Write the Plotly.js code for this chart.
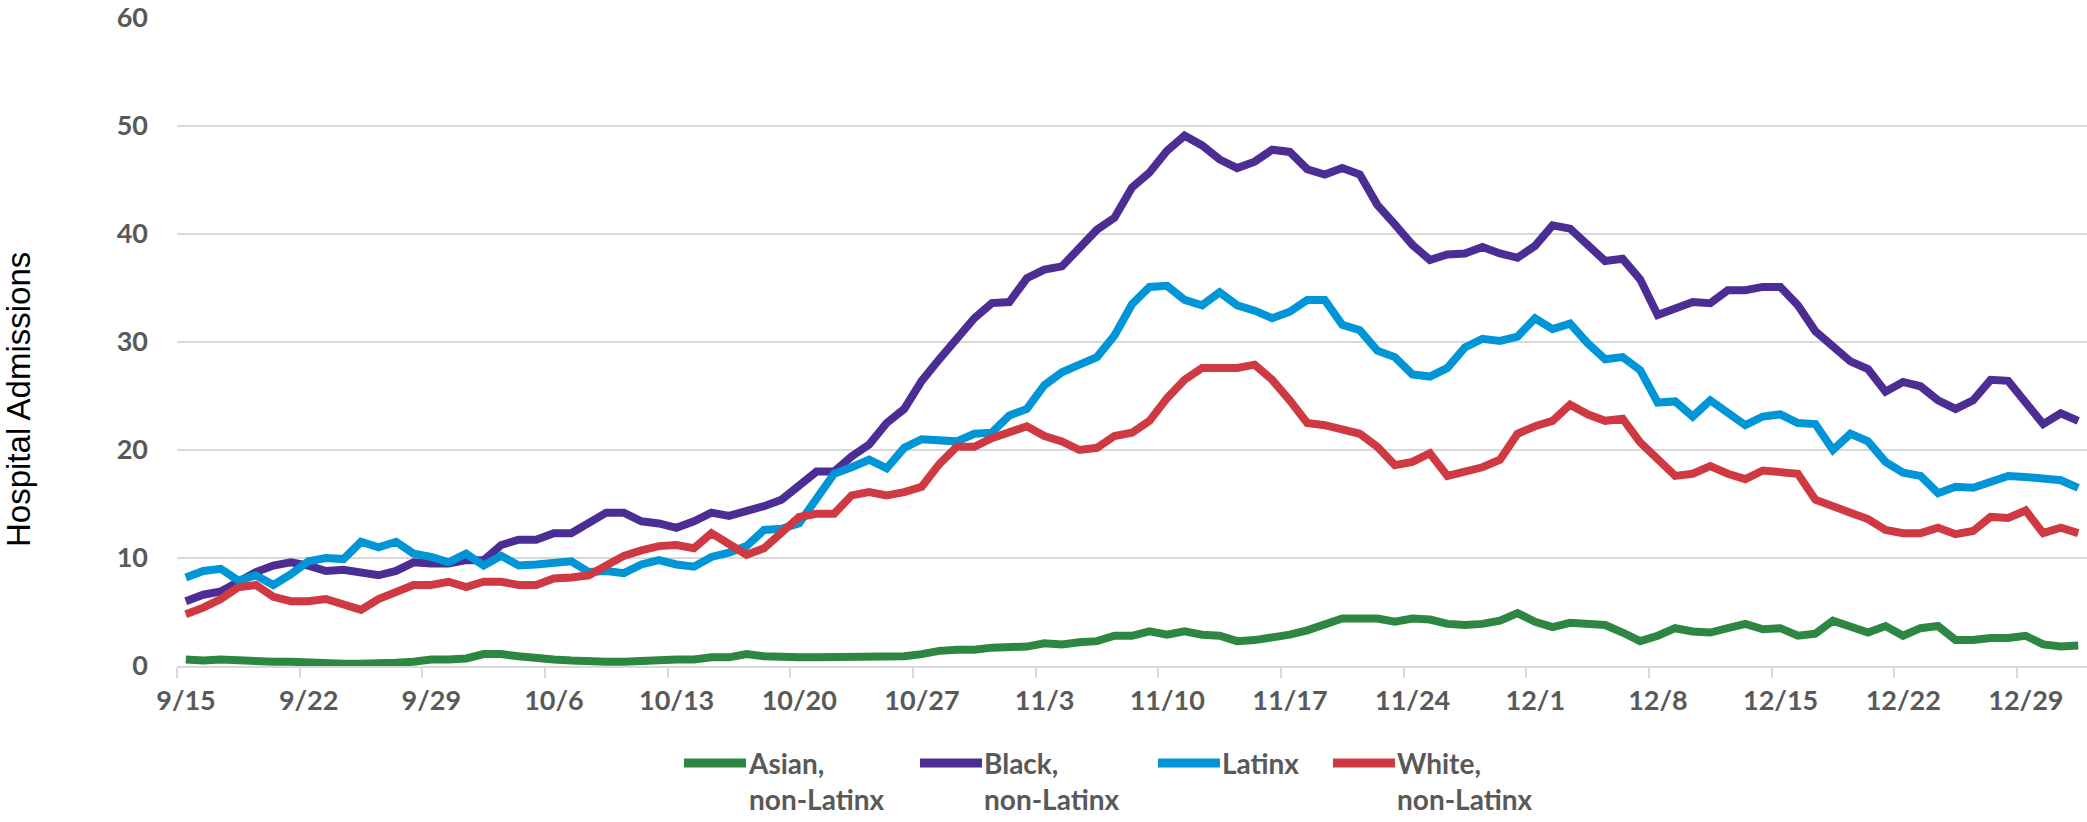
<!DOCTYPE html>
<html>
<head>
<meta charset="utf-8">
<script src="https://cdn.plot.ly/plotly-3.0.1.min.js"></script>
<style>
  html, body { margin: 0; padding: 0; background: #fff; }
  #chart { width: 2087px; height: 822px; }
</style>
</head>
<body>
<div id="chart"></div>
<script>
// daily hospital admissions, 9/15 to 1/1
const firstDay = [2020, 8, 15];

const asian = [
  0.6, 0.5, 0.6, 0.5, 0.4, 0.4, 0.4, 0.3, 0.3, 0.2, 0.2, 0.2, 0.3, 0.4, 0.6, 0.6, 0.7, 1.1, 1.1, 0.9, 0.7, 0.6,
  0.5, 0.4, 0.4, 0.4, 0.5, 0.6, 0.6, 0.6, 0.8, 0.8, 1.1, 0.9, 0.8, 0.8, 0.8, 0.8, 0.8, 0.8, 0.8, 0.9, 1.1, 1.4, 1.5,
  1.5, 1.7, 1.7, 1.8, 2.1, 2.0, 2.2, 2.3, 2.8, 2.8, 3.2, 2.9, 3.2, 2.9, 2.8, 2.3, 2.4, 2.6, 2.9, 3.3, 3.9, 4.4,
  4.4, 4.4, 4.1, 4.4, 4.3, 3.9, 3.8, 3.9, 4.2, 4.9, 4.1, 3.6, 4.0, 3.9, 3.8, 3.1, 2.3, 2.8, 3.5, 3.2, 3.1, 3.5,
  3.9, 3.4, 3.5, 2.8, 3.0, 4.2, 3.6, 3.1, 3.7, 2.8, 3.5, 3.7, 2.4, 2.4, 2.6, 2.6, 2.8, 2.0, 1.8, 1.9
];
const black = [
  6.0, 6.6, 6.9, 7.9, 8.7, 9.3, 9.6, 9.3, 8.8, 8.9, 8.7, 8.4, 8.8, 9.6, 9.5, 9.5, 9.8, 9.8, 11.2, 11.7, 11.7, 12.3,
  12.3, 13.2, 14.2, 14.2, 13.4, 13.2, 12.8, 13.4, 14.2, 13.9, 14.3, 14.8, 15.4, 16.6, 18.0, 18.0, 19.4, 20.5, 22.5, 23.8, 26.4, 28.4, 30.4,
  32.2, 33.6, 33.7, 35.9, 36.7, 37.0, 38.6, 40.4, 41.5, 44.3, 45.7, 47.7, 49.1, 48.2, 46.9, 46.1, 46.7, 47.8, 47.6, 46.0, 45.5, 46.1,
  45.5, 42.7, 40.9, 39.0, 37.6, 38.1, 38.2, 38.8, 38.2, 37.8, 38.9, 40.8, 40.5, 39.1, 37.5, 37.7, 35.8, 32.5, 33.1, 33.7, 33.6, 34.8,
  34.8, 35.1, 35.1, 33.4, 31.0, 29.7, 28.2, 27.5, 25.4, 26.3, 25.9, 24.6, 23.8, 24.6, 26.5, 26.4, 24.5, 22.4, 23.4, 22.7
];
const latinx = [
  8.2, 8.8, 9.0, 7.9, 8.4, 7.5, 8.5, 9.7, 10.0, 9.9, 11.5, 11.0, 11.5, 10.4, 10.1, 9.6, 10.4, 9.3, 10.2, 9.3, 9.4, 9.6,
  9.7, 8.7, 8.8, 8.6, 9.4, 9.8, 9.4, 9.2, 10.1, 10.5, 11.1, 12.6, 12.7, 13.2, 15.5, 17.8, 18.4, 19.1, 18.3, 20.2, 21.0, 20.9, 20.8,
  21.5, 21.6, 23.2, 23.8, 26.0, 27.2, 27.9, 28.6, 30.6, 33.5, 35.1, 35.2, 33.9, 33.4, 34.6, 33.4, 32.9, 32.2, 32.8, 33.9, 33.9, 31.6,
  31.1, 29.2, 28.6, 27.0, 26.8, 27.6, 29.5, 30.3, 30.1, 30.5, 32.2, 31.2, 31.7, 29.9, 28.4, 28.6, 27.4, 24.4, 24.5, 23.1, 24.6, 23.5,
  22.3, 23.1, 23.3, 22.5, 22.4, 20.0, 21.5, 20.8, 18.9, 17.9, 17.6, 16.0, 16.6, 16.5, 17.0, 17.6, 17.5, 17.4, 17.2, 16.5
];
const white = [
  4.8, 5.4, 6.2, 7.3, 7.5, 6.4, 6.0, 6.0, 6.2, 5.7, 5.2, 6.2, 6.8, 7.5, 7.5, 7.8, 7.3, 7.8, 7.8, 7.5, 7.5, 8.1,
  8.2, 8.4, 9.3, 10.2, 10.7, 11.1, 11.2, 10.9, 12.3, 11.2, 10.3, 10.9, 12.4, 13.8, 14.1, 14.1, 15.8, 16.1, 15.8, 16.1, 16.6, 18.7, 20.3,
  20.3, 21.1, 21.6, 22.2, 21.3, 20.8, 20.0, 20.2, 21.3, 21.6, 22.7, 24.8, 26.5, 27.6, 27.6, 27.6, 27.9, 26.5, 24.6, 22.5, 22.3, 21.9,
  21.5, 20.3, 18.6, 18.9, 19.7, 17.6, 18.0, 18.4, 19.1, 21.5, 22.2, 22.7, 24.2, 23.3, 22.7, 22.9, 20.7, 19.1, 17.6, 17.8, 18.5, 17.8,
  17.3, 18.1, 18.0, 17.8, 15.4, 14.7, 14.2, 13.6, 12.6, 12.3, 12.3, 12.8, 12.2, 12.5, 13.8, 13.7, 14.4, 12.3, 12.8, 12.3
];

const seriesNames = ["Asian, non-Latinx", "Black, non-Latinx", "Latinx", "White, non-Latinx"];
const seriesColors = ["#2d8641", "#4b2d94", "#0095d6", "#cf3a42"];

const tickDates = ["2020-09-15", "2020-09-22", "2020-09-29", "2020-10-06", "2020-10-13", "2020-10-20", "2020-10-27", "2020-11-03",
  "2020-11-10", "2020-11-17", "2020-11-24", "2020-12-01", "2020-12-08", "2020-12-15", "2020-12-22", "2020-12-29"];
const tickText = ["9/15", "9/22", "9/29", "10/6", "10/13", "10/20", "10/27", "11/3",
  "11/10", "11/17", "11/24", "12/1", "12/8", "12/15", "12/22", "12/29"];

// one category per day
let days = [];
for (let i = 0; i < asian.length; i++) {
  let d = new Date(Date.UTC(firstDay[0], firstDay[1], firstDay[2] + i));
  days.push(d.toISOString().slice(0, 10));
}

// tick marks sit between days (like Excel), labels in the middle of the day
function halfDayBefore(s) {
  let t = new Date(s + "T00:00:00Z").getTime() - 12 * 3600 * 1000;
  return new Date(t).toISOString().replace("T", " ").slice(0, 16);
}
let tickVals = tickDates.map(halfDayBefore);
let xStart = halfDayBefore(days[0]);
let lastDay = new Date(days[days.length - 1] + "T12:00:00Z");
let xEnd = lastDay.toISOString().replace("T", " ").slice(0, 16);

let allSeries = [asian, black, latinx, white];
let data = allSeries.map(function (vals, i) {
  return {
    type: "scatter",
    mode: "lines",
    name: seriesNames[i],
    x: days,
    y: vals,
    line: { color: seriesColors[i], width: 8 },
    hoverinfo: "skip"
  };
});

// pixel helpers for the hand-made legend
const W = 2087, H = 822;
const mar = { l: 177, r: 0, t: 18, b: 156 };
const plotW = W - mar.l - mar.r, plotH = H - mar.t - mar.b;
function px(x) { return (x - mar.l) / plotW; }
function py(y) { return (H - mar.b - y) / plotH; }

const legendX = [684, 920, 1158, 1333];
const legendLen = 62;
const legendY = 763;
const labelFont = { family: "Lato, 'Open Sans', sans-serif", size: 28, color: "#595959", weight: "bold" };

let shapes = [];
let annotations = [];
seriesNames.forEach(function (name, i) {
  shapes.push({
    type: "line", xref: "paper", yref: "paper",
    x0: px(legendX[i]), x1: px(legendX[i] + legendLen),
    y0: py(legendY), y1: py(legendY),
    line: { color: seriesColors[i], width: 9 }
  });
  annotations.push({
    xref: "paper", yref: "paper",
    x: px(legendX[i] + legendLen), y: py(legendY - 19),
    xanchor: "left", yanchor: "top", align: "left",
    showarrow: false,
    text: name.replace(", ", ",<br>"),
    font: labelFont
  });
});

annotations.push({
  xref: "paper", yref: "paper",
  x: px(19), y: py(400),
  xanchor: "center", yanchor: "middle",
  textangle: -90, showarrow: false,
  text: "Hospital Admissions",
  font: { family: "'Liberation Sans', Arial, sans-serif", size: 33, color: "#000000" }
});

let layout = {
  width: W,
  height: H,
  margin: mar,
  paper_bgcolor: "#ffffff",
  plot_bgcolor: "#ffffff",
  showlegend: false,
  xaxis: {
    type: "date",
    range: [xStart, xEnd],
    tickmode: "array",
    tickvals: tickVals,
    ticktext: tickText,
    ticklabelshift: 9,
    ticks: "outside",
    ticklen: 10,
    tickwidth: 2,
    tickcolor: "#d9d9d9",
    showline: true,
    linecolor: "#d9d9d9",
    linewidth: 2,
    showgrid: false,
    zeroline: false,
    tickfont: { family: "Lato, 'Open Sans', sans-serif", size: 27, color: "#595959", weight: "bold" }
  },
  yaxis: {
    range: [0, 60],
    dtick: 10,
    tick0: 0,
    ticks: "",
    ticklabelstandoff: 28,
    showline: false,
    zeroline: false,
    gridcolor: "#d9d9d9",
    gridwidth: 2,
    tickfont: { family: "Lato, 'Open Sans', sans-serif", size: 27, color: "#595959", weight: "bold" }
  },
  shapes: shapes,
  annotations: annotations
};

Plotly.newPlot("chart", data, layout, { displayModeBar: false, staticPlot: true });
</script>
</body>
</html>
